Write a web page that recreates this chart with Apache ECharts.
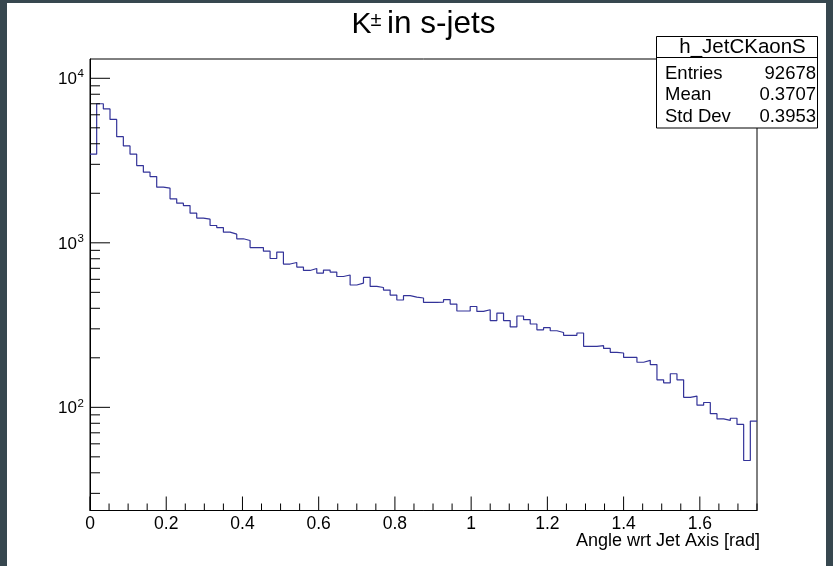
<!DOCTYPE html>
<html><head><meta charset="utf-8">
<script src="https://cdn.jsdelivr.net/npm/echarts@6/dist/echarts.min.js"></script>
<style>html,body{margin:0;padding:0;background:#fff;} #c{width:833px;height:566px;}</style>
</head><body><div id="c"></div>
<script>
// ---- data ----
const binWidth = 0.0175;           // 100 bins over [0, 1.75] rad
const counts = [
  3456, 7002, 6511, 5620, 4420, 3880, 3456, 2947, 2687, 2527,
  2179, 2148, 1850, 1742, 1685, 1515, 1413, 1393, 1274, 1238,
  1161, 1129, 1058, 1033,  936,  936,  890,  803,  878,  743,
   759,  712,  679,  698,  655,  683,  664,  624,  637,  554,
   569,  616,  543,  535,  516,  481,  449,  477,  468,  462,
   434,  434,  436,  451,  424,  385,  385,  410,  383,  392,
   337,  374,  337,  308,  359,  341,  321,  296,  305,  292,
   285,  274,  274,  283,  235,  235,  237,  228,  216,  214,
   201,  201,  188,  193,  182,  147,  141,  160,  147,  115,
   117,  103,  107, 91.5,   85, 83.3, 85.8, 78.7, 47.5, 82.5
];
const xMin = 0, xMax = 1.75, xLabelStep = 0.2, xMinorStep = 0.05;
const yMin = 23.6, yMax = 13100;
const yMajorTicks = [100, 1000, 10000];
const yExponents = ['2', '3', '4'];
const yMinorMultipliers = [2, 3, 4, 5, 6, 7, 8, 9];
const titleParts = ['K', '\u00B1', 'in s-jets'];
const xTitle = 'Angle wrt Jet Axis [rad]';
const statsName = 'h_JetCKaonS';
const statsLabels = ['Entries', 'Mean', 'Std Dev'];
const statsValues = ['92678', '0.3707', '0.3953'];

// ---- build ----
const FONT = 'Liberation Sans, Arial, Helvetica, sans-serif';
const lineColor = '#333399';
const stepData = counts.map((c, i) => [i * binWidth, c]);
stepData.push([counts.length * binWidth, counts[counts.length - 1]]);

const xTickData = [];
for (let k = 0; k * xMinorStep <= xMax + 1e-9; k++) {
  const v = +(k * xMinorStep).toFixed(4);
  const major = Math.abs(v / xLabelStep - Math.round(v / xLabelStep)) < 1e-6 ? 1 : 0;
  xTickData.push([v, yMin, major]);
}
const yTickData = [];
[10, 100, 1000, 10000].forEach(d => {
  yMinorMultipliers.forEach(m => { const v = m * d; if (v >= yMin && v <= yMax) yTickData.push([xMin, v, 0]); });
});
yMajorTicks.forEach(v => yTickData.push([xMin, v, 1]));
const yLabelData = yMajorTicks.map((v, i) => [xMin, v, i]);

function txt(text, x, y, size, align, z) {
  return {type: 'text', x: x, y: y, z: z || 100, style: {text: text, font: size + 'px ' + FONT, fill: '#000',
    textAlign: align, textVerticalAlign: 'middle', align: align, verticalAlign: 'middle'}};
}

const chart = echarts.init(document.getElementById('c'), null, {renderer: 'canvas'});
chart.setOption({
  backgroundColor: '#ffffff',
  animation: false,
  grid: {left: 90, top: 59, width: 667, height: 451.5, show: true, borderColor: '#000', borderWidth: 1, backgroundColor: 'transparent'},
  xAxis: {
    type: 'value', min: xMin, max: xMax, interval: xLabelStep,
    axisLine: {show: true, lineStyle: {color: '#000', width: 1}},
    axisTick: {show: false}, splitLine: {show: false},
    axisLabel: {color: '#000', fontSize: 17.5, fontFamily: FONT, margin: 5, showMaxLabel: false,
      formatter: v => (Math.abs(v - xMax) < 1e-6 ? '' : String(+v.toFixed(2)))}
  },
  yAxis: {
    type: 'log', logBase: 10, min: yMin, max: yMax,
    axisLine: {show: true, lineStyle: {color: '#000', width: 1}},
    axisTick: {show: false}, axisLabel: {show: false}, splitLine: {show: false}, minorTick: {show: false}
  },
  series: [
    {
      type: 'line', step: 'end', data: stepData, showSymbol: false, symbol: 'none',
      lineStyle: {color: lineColor, width: 1.2}, clip: true, z: 5
    },
    {
      type: 'custom', data: xTickData, encode: {x: 0, y: 1}, clip: false, silent: true, z: 6,
      renderItem: (params, api) => {
        const p = api.coord([api.value(0), api.value(1)]);
        const len = api.value(2) ? 14 : 7;
        return {type: 'line', shape: {x1: p[0], y1: p[1], x2: p[0], y2: p[1] - len}, style: {stroke: '#000', lineWidth: 1}};
      }
    },
    {
      type: 'custom', data: yTickData, encode: {x: 0, y: 1}, clip: false, silent: true, z: 6,
      renderItem: (params, api) => {
        const p = api.coord([api.value(0), api.value(1)]);
        const len = api.value(2) ? 20 : 10;
        return {type: 'line', shape: {x1: p[0], y1: p[1], x2: p[0] + len, y2: p[1]}, style: {stroke: '#000', lineWidth: 1}};
      }
    },
    {
      type: 'custom', data: yLabelData, encode: {x: 0, y: 1}, clip: false, silent: true, z: 6,
      renderItem: (params, api) => {
        const p = api.coord([api.value(0), api.value(1)]);
        const e = yExponents[api.value(2)];
        return {type: 'group', children: [
          {type: 'text', style: {text: '10', x: p[0] - 13, y: p[1] + 1, fill: '#000', font: '17px ' + FONT,
            align: 'right', verticalAlign: 'middle', textAlign: 'right', textVerticalAlign: 'middle'}},
          {type: 'text', style: {text: e, x: p[0] - 12.6, y: p[1] - 4, fill: '#000', font: '11.5px ' + FONT,
            align: 'left', verticalAlign: 'middle', textAlign: 'left', textVerticalAlign: 'middle'}}
        ]};
      }
    }
  ],
  graphic: [
    {type: 'rect', left: 0, top: 0, shape: {width: 7, height: 566}, style: {fill: '#37474f'}, z: 100},
    {type: 'rect', left: 0, top: 0, shape: {width: 833, height: 3}, style: {fill: '#37474f'}, z: 100},
    {type: 'rect', left: 826, top: 0, shape: {width: 7, height: 566}, style: {fill: '#37474f'}, z: 100},
    txt(titleParts[0], 351.5, 24.5, 30, 'left'),
    txt(titleParts[1], 370.5, 20.5, 20, 'left'),
    txt(titleParts[2], 387, 24.5, 31.5, 'left'),
    txt(xTitle, 760, 541, 18, 'right'),
    {type: 'rect', x: 656.5, y: 36.5, z: 100, shape: {width: 161, height: 91.5}, style: {fill: '#fff', stroke: '#000', lineWidth: 1}},
    {type: 'line', z: 101, shape: {x1: 656.5, y1: 57.5, x2: 817.5, y2: 57.5}, style: {stroke: '#000', lineWidth: 1}},
    txt(statsName, 742.5, 47, 20.5, 'center', 101),
    ...statsLabels.map((t, i) => txt(t, 665, 73.5 + i * 21.7, 18.5, 'left', 101)),
    ...statsValues.map((t, i) => txt(t, 816, 73.5 + i * 21.7, 18.5, 'right', 101))
  ]
});
</script></body></html>
